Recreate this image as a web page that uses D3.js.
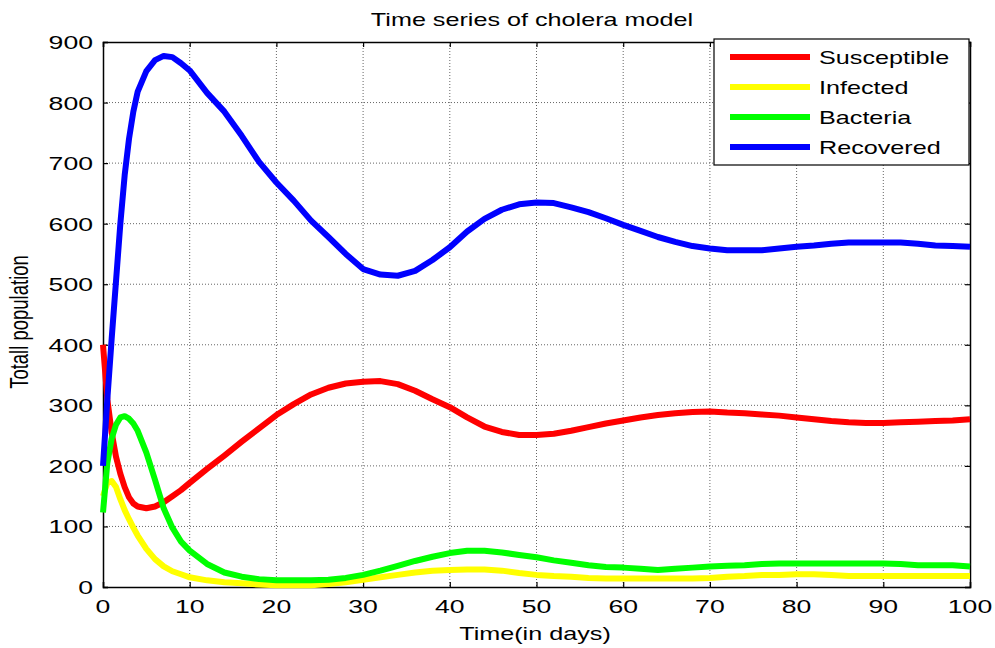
<!DOCTYPE html>
<html>
<head>
<meta charset="utf-8">
<script src="https://cdn.jsdelivr.net/npm/d3@7"></script>
<style>
  body { margin: 0; background: #fff; }
  text { font-family: "Liberation Sans", Arial, sans-serif; fill: #000; }
</style>
</head>
<body>
<script>
// time points (days)
var days = [0,0.5,1,1.5,2,2.5,3,3.5,4,5,6,7,8,9,10,12,14,16,18,20,22,24,26,28,30,32,34,36,38,40,42,44,46,48,50,52,54,56,58,60,62,64,66,68,70,72,74,76,78,80,82,84,86,88,90,92,94,96,98,100];

var susceptible = [400,310,255,215,187,165,148,138,133,130,133,140,150,160,172,195,217,240,262,284,302,318,329,336,339,340,335,324,310,297,280,265,256,251,251,253,258,264,270,275,280,284,287,289,290,288,287,285,283,280,277,274,272,271,271,272,273,274,275,277];
var infected = [150,172,175,165,145,127,112,98,85,63,46,34,26,21,16,11,8,6,4,3,3,3,5,8,12,16,20,24,27,28,29,29,27,23,20,18,17,15,14,14,14,14,14,14,15,17,18,20,20,21,21,20,18,18,18,18,18,18,18,18];
var bacteria = [123,205,245,268,280,282,278,270,258,222,177,130,98,75,60,38,24,17,13,11,11,11,12,15,20,27,35,43,50,56,60,60,57,53,49,44,40,36,33,32,30,28,30,32,34,35,36,38,39,39,39,39,39,39,39,38,36,36,36,34];
var recovered = [200,310,410,505,600,680,740,785,818,852,870,877,875,865,853,816,785,745,702,668,638,605,578,550,525,516,514,522,540,561,587,608,623,632,635,634,627,619,609,598,588,578,570,563,559,556,556,556,559,562,564,567,569,569,569,569,567,564,563,562];

var seriesNames = ["Susceptible", "Infected", "Bacteria", "Recovered"];
var seriesColors = ["#ff0000", "#ffff00", "#00ff00", "#0000ff"];
var seriesValues = [susceptible, infected, bacteria, recovered];

var xTicks = [0,10,20,30,40,50,60,70,80,90,100];
var yTicks = [0,100,200,300,400,500,600,700,800,900];

var W = 995, H = 648;
var pLeft = 103, pRight = 970, pTop = 42, pBottom = 587;
var sx = 1.4; // horizontal stretch of the original picture

var svg = d3.select("body").append("svg")
  .attr("width", W).attr("height", H);

var x = d3.scaleLinear().domain([0, 100]).range([pLeft, pRight]);
var y = d3.scaleLinear().domain([0, 900]).range([pBottom, pTop]);

// grid
svg.append("g").selectAll("line").data(xTicks.slice(1, -1)).enter().append("line")
  .attr("x1", d => x(d)).attr("x2", d => x(d))
  .attr("y1", pTop).attr("y2", pBottom)
  .attr("stroke", "#666").attr("stroke-width", 1).attr("stroke-dasharray", "1,2");
svg.append("g").selectAll("line").data(yTicks.slice(1, -1)).enter().append("line")
  .attr("x1", pLeft).attr("x2", pRight)
  .attr("y1", d => y(d)).attr("y2", d => y(d))
  .attr("stroke", "#666").attr("stroke-width", 1).attr("stroke-dasharray", "1,2");

// axes, ticks pointing inward on all four sides
var axB = d3.axisBottom(x).tickValues(xTicks).tickSize(-5).tickFormat("");
var axT = d3.axisTop(x).tickValues(xTicks).tickSize(-5).tickFormat("");
var axL = d3.axisLeft(y).tickValues(yTicks).tickSize(-5).tickFormat("");
var axR = d3.axisRight(y).tickValues(yTicks).tickSize(-5).tickFormat("");
svg.append("g").attr("transform", "translate(0," + pBottom + ")").call(axB);
svg.append("g").attr("transform", "translate(0," + pTop + ")").call(axT);
svg.append("g").attr("transform", "translate(" + pLeft + ",0)").call(axL);
svg.append("g").attr("transform", "translate(" + pRight + ",0)").call(axR);
svg.selectAll(".domain").attr("stroke", "#000").attr("stroke-width", 1.5);
svg.selectAll(".tick line").attr("stroke", "#000").attr("stroke-width", 1.2);

// tick labels
svg.append("g").selectAll("text").data(xTicks).enter().append("text")
  .attr("transform", d => "translate(" + x(d) + "," + 613 + ") scale(" + sx + ",1)")
  .attr("text-anchor", "middle").attr("font-size", 19)
  .text(d => d);
svg.append("g").selectAll("text").data(yTicks).enter().append("text")
  .attr("transform", d => "translate(" + 93 + "," + (y(d) + 7) + ") scale(" + sx + ",1)")
  .attr("text-anchor", "end").attr("font-size", 19)
  .text(d => d);

// lines
var line = d3.line().x((d, i) => x(days[i])).y(d => y(d));
seriesValues.forEach(function(vals, k) {
  svg.append("path")
    .datum(vals)
    .attr("d", line)
    .attr("fill", "none")
    .attr("stroke", seriesColors[k])
    .attr("stroke-width", 6)
    .attr("stroke-linejoin", "round");
});

// title and labels
svg.append("text")
  .attr("transform", "translate(" + 532 + ",26) scale(" + sx + ",1)")
  .attr("text-anchor", "middle").attr("font-size", 18)
  .text("Time series of cholera model");
svg.append("text")
  .attr("transform", "translate(" + 535 + ",640) scale(" + sx + ",1)")
  .attr("text-anchor", "middle").attr("font-size", 18)
  .text("Time(in days)");
svg.append("text")
  .attr("transform", "translate(28," + 322 + ") rotate(-90) scale(1," + sx + ")")
  .attr("text-anchor", "middle").attr("font-size", 18.5)
  .text("Totall population");

// legend
var lg = svg.append("g");
lg.append("rect")
  .attr("x", 714).attr("y", 39).attr("width", 255).attr("height", 126)
  .attr("fill", "#fff").attr("stroke", "#000").attr("stroke-width", 1.2);
var rowY = d3.scalePoint().domain(seriesNames).range([57, 147]);
seriesNames.forEach(function(name, k) {
  lg.append("line")
    .attr("x1", 730).attr("x2", 810)
    .attr("y1", rowY(name)).attr("y2", rowY(name))
    .attr("stroke", seriesColors[k]).attr("stroke-width", 6);
  lg.append("text")
    .attr("transform", "translate(819," + (rowY(name) + 6.5) + ") scale(" + sx + ",1)")
    .attr("font-size", 18)
    .text(name);
});
</script>
</body>
</html>
